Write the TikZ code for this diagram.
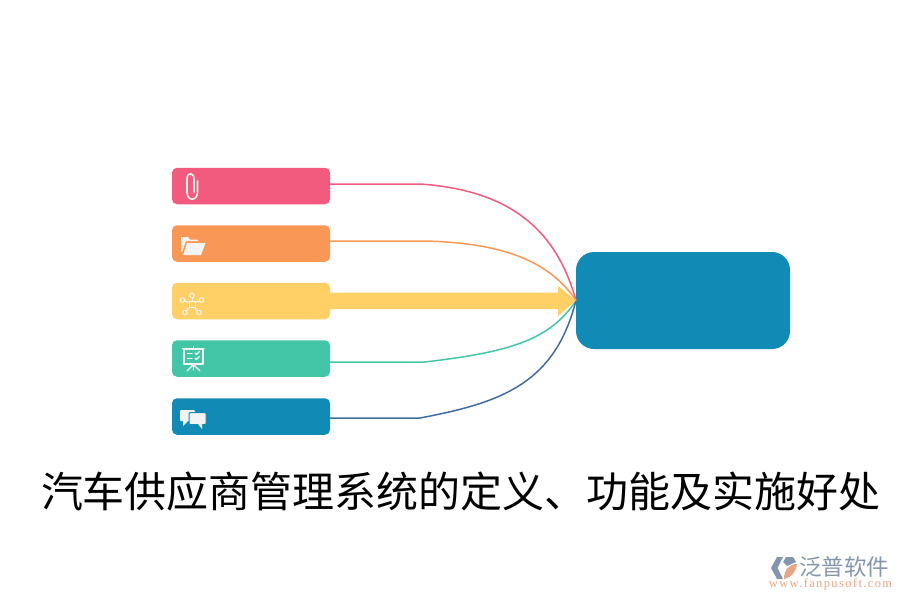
\documentclass[tikz,border=0pt]{standalone}
\usepackage{fontspec}
\newfontfamily\cjk{Noto Sans CJK SC}
\setmainfont{Liberation Serif}
\definecolor{cpink}{HTML}{F25B7E}
\definecolor{corange}{HTML}{F99856}
\definecolor{cyellow}{HTML}{FFD066}
\definecolor{cgreen}{HTML}{43C6A8}
\definecolor{cblue}{HTML}{118AB5}
\definecolor{lblue}{HTML}{3F6CA3}
\definecolor{icon}{HTML}{F4F4F4}
\definecolor{logog}{HTML}{8496AE}
\definecolor{logoo}{HTML}{E8A585}
\tikzset{
  x=1pt,y=-1pt,
  bar/.style={draw=none,fill=#1,rounded corners=5pt,minimum width=158pt,minimum height=36.5pt,inner sep=0pt,outer sep=0pt},
  link/.style={line width=1.5pt,draw=#1},
  ic/.style={draw=icon,line width=1.2pt,fill=none,line cap=round,line join=round},
  icf/.style={fill=icon,draw=none},
}
\begin{document}
\begin{tikzpicture}
\useasboundingbox (0,0) rectangle (900,600);
\node[bar=cpink]   (a) at (251,186) {};
\node[bar=corange] (b) at (251,243.5) {};
\node[bar=cyellow] (c) at (251,301) {};
\node[bar=cgreen]  (d) at (251,358.5) {};
\node[bar=cblue]   (e) at (251,416.5) {};
\node[draw=none,fill=cblue,rounded corners=18pt,minimum width=214pt,minimum height=97pt,inner sep=0pt,outer sep=0pt] (hub) at (683,300.5) {};
% connectors
\draw[link=cpink] (a.east |- 0,184) -- (420,184) .. controls (505,190) and (555,225) .. (hub.west);
\draw[link=corange] (b.east |- 0,241) -- (425,241) .. controls (505,243) and (550,262) .. (hub.west);
\draw[link=cgreen] (d.east |- 0,362) -- (425,362) .. controls (510,352) and (550,340) .. (hub.west);
\draw[link=lblue] (e.east |- 0,418) -- (420,418) .. controls (505,402) and (555,382) .. (hub.west);
\fill[cyellow] (c.east |- 0,292.5) -- (558,292.5) -- (558,286) -- (hub.west) -- (558,316) -- (558,309) -- (c.east |- 0,309) -- cycle;
% paper clip
\draw[ic,line width=1.6pt] (197.5,181) -- (197.5,192) .. controls (197.5,201.5) and (187,201.5) .. (187,192) -- (187,179) .. controls (187,172) and (194,172) .. (194,179) -- (194,192);
% folder
\path[icf] (181,252) -- (181,237) -- (188,237) -- (190,239.5) -- (198,239.5) -- (198,241) -- (186,241) -- (182,252) -- cycle;
\path[icf] (183,255) -- (187,243) -- (205.5,243) -- (201,255) -- cycle;
% network
\coordinate (n0) at (192,304);
\foreach \p in {(192,295.5),(201.5,300),(199,312.5),(185,312.5),(182.5,300)}
  {\draw[ic,line width=1pt] (n0) -- \p; \draw[ic,line width=1pt,fill=cyellow] \p circle (2.3pt);}
\draw[ic,line width=1pt,fill=cyellow] (189,301) rectangle (195,307);
% presentation board
\draw[ic] (182.5,348.5) -- (204,348.5);
\draw[ic] (184,349) rectangle (203,364);
\draw[ic] (193.5,346.5) -- (193.5,348);
\draw[ic] (193.5,364) -- (193.5,370) (193,365) -- (187,371) (194,365) -- (200,371);
\draw[ic] (187.5,353.5) -- (192,353.5) (187.5,358.5) -- (192,358.5);
\draw[ic] (195,353) -- (196.5,354.5) -- (199.5,351.5) (195,358) -- (196.5,359.5) -- (199.5,356.5);
% chat
\path[icf,rounded corners=1pt] (180,410) rectangle (195,421);
\path[icf] (183,420) -- (183,426) -- (189,420) -- cycle;
\draw[cblue,line width=1pt,fill=icon,rounded corners=1pt] (189,412.5) rectangle (206,424.5);
\path[icf] (198,424) -- (202,429) -- (202,424) -- cycle;
% title
\node[font=\cjk\fontsize{42}{42}\selectfont,inner sep=0pt,text=black] (title) at (461,492) {汽车供应商管理系统的定义、功能及实施好处};
% logo
\path[fill=logog] (783,557) -- (777,557) -- (771,568) -- (777,579) -- (783,579) -- (777.5,568) -- cycle;
\path[fill=logoo] (784,579) .. controls (784,570) and (789,564) .. (797,564) .. controls (796,572) and (791,578) .. (784,579) -- cycle;
\path[fill=logog] (786,557) -- (793,557) -- (796,562) -- (787,566) -- (783,562) -- cycle;
\node[font=\cjk\fontsize{22.5}{22.5}\selectfont,text=logog,inner sep=0pt] (brand) at (844,566.5) {泛普软件};
\node[font=\fontsize{12.5}{12.5}\selectfont\addfontfeatures{LetterSpace=11},text=logoo,inner sep=0pt] (url) at (830.5,584.5) {www.fanpusoft.com};
\end{tikzpicture}
\end{document}
